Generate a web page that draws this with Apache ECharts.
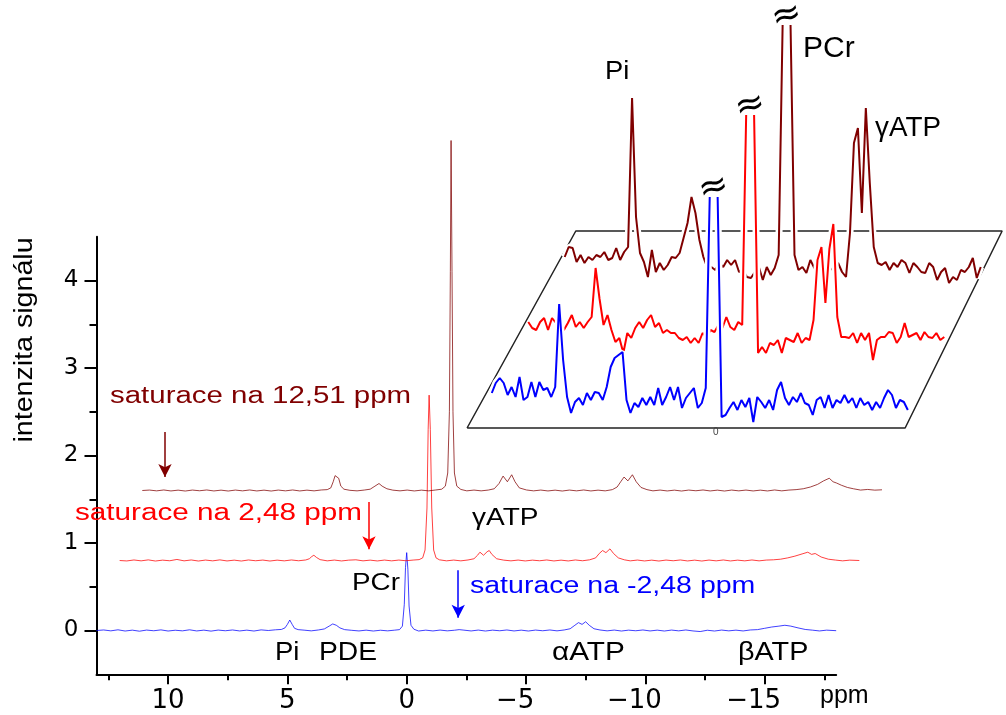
<!DOCTYPE html>
<html><head><meta charset="utf-8">
<script src="https://cdn.jsdelivr.net/npm/echarts@6/dist/echarts.min.js"></script>
<style>html,body{margin:0;padding:0;background:#fff}#c{width:1006px;height:715px}</style>
</head><body><div id="c"></div>
<script>
// ---------- tick values ----------
const xMajor = [-15, -10, -5, 0, 5, 10];
const xMinor = [-17.5, -12.5, -7.5, -2.5, 2.5, 7.5, 12.5];
const yMajor = [0, 1, 2, 3, 4];
const yMinor = [0.5, 1.5, 2.5, 3.5];

// ---------- main spectra: [ppm, intensity] ----------
const blueSpectrum = [[13.0,0.0],[12.7,0.006],[12.4,-0.004],[12.1,0.008],[11.8,-0.006],[11.5,0.004],[11.2,-0.008],[10.9,0.005],[10.6,-0.003],[10.3,0.007],[10.0,-0.006],[9.7,0.003],[9.4,-0.004],[9.1,0.008],[8.8,-0.005],[8.5,0.004],[8.2,-0.007],[7.9,0.005],[7.6,-0.003],[7.3,0.006],[7.0,-0.005],[6.7,0.004],[6.4,-0.006],[6.1,0.007],[5.8,0.0],[5.5,0.008],[5.25,0.012],[5.1,0.03],[5.0,0.07],[4.9,0.12],[4.8,0.07],[4.7,0.025],[4.55,0.01],[4.3,0.004],[4.0,-0.004],[3.7,0.006],[3.45,0.018],[3.25,0.05],[3.1,0.075],[2.95,0.06],[2.8,0.03],[2.6,0.01],[2.3,0.002],[2.0,-0.005],[1.7,0.004],[1.4,-0.006],[1.1,0.003],[0.8,-0.004],[0.5,0.004],[0.3,0.01],[0.18,0.05],[0.1,0.3],[0.05,0.72],[0.0,0.89],[-0.05,0.7],[-0.1,0.28],[-0.18,0.06],[-0.3,0.015],[-0.5,-0.006],[-0.8,0.004],[-1.1,-0.005],[-1.4,0.005],[-1.7,-0.004],[-2.0,0.003],[-2.2,0.01],[-2.4,0.004],[-2.7,-0.005],[-3.0,0.005],[-3.3,-0.006],[-3.6,0.004],[-3.9,-0.003],[-4.2,0.006],[-4.5,-0.005],[-4.8,0.004],[-5.1,-0.006],[-5.4,0.005],[-5.7,-0.003],[-6.0,0.006],[-6.3,-0.004],[-6.6,0.006],[-6.85,0.02],[-7.05,0.06],[-7.2,0.09],[-7.35,0.07],[-7.5,0.1],[-7.65,0.06],[-7.85,0.02],[-8.1,0.006],[-8.4,-0.004],[-8.7,0.005],[-9.0,-0.006],[-9.3,0.004],[-9.6,-0.003],[-9.9,0.006],[-10.2,-0.005],[-10.5,0.004],[-10.8,-0.006],[-11.1,0.005],[-11.4,-0.004],[-11.7,0.006],[-12.0,-0.005],[-12.3,-0.012],[-12.6,0.003],[-12.9,-0.006],[-13.2,0.005],[-13.5,-0.004],[-13.8,0.004],[-14.1,-0.005],[-14.4,0.006],[-14.7,0.01],[-15.0,0.025],[-15.3,0.04],[-15.6,0.05],[-15.85,0.06],[-16.1,0.05],[-16.4,0.03],[-16.7,0.012],[-17.0,0.004],[-17.3,-0.005],[-17.6,0.004],[-18.0,-0.002]];

const redSpectrum = [[13.0,0.0],[12.7,-0.005],[12.4,0.006],[12.1,-0.004],[11.8,0.007],[11.5,-0.006],[11.2,0.004],[10.9,-0.003],[10.6,0.012],[10.3,-0.004],[10.0,0.006],[9.7,-0.006],[9.4,0.005],[9.1,-0.004],[8.8,0.007],[8.5,-0.005],[8.2,0.004],[7.9,-0.006],[7.6,0.006],[7.3,-0.003],[7.0,0.005],[6.7,-0.006],[6.4,0.004],[6.1,-0.004],[5.8,0.006],[5.5,-0.003],[5.2,0.006],[5.05,0.02],[4.95,0.045],[4.86,0.06],[4.75,0.035],[4.6,0.01],[4.3,-0.004],[4.0,0.005],[3.7,-0.005],[3.4,0.004],[3.1,0.008],[2.8,-0.004],[2.5,0.004],[2.2,-0.005],[1.9,0.005],[1.6,-0.004],[1.3,0.005],[1.0,-0.003],[0.7,0.005],[0.45,0.01],[0.3,0.03],[0.2,0.12],[0.12,0.6],[0.07,1.5],[0.03,1.89],[-0.02,1.5],[-0.08,0.6],[-0.16,0.12],[-0.26,0.03],[-0.4,0.008],[-0.7,-0.004],[-1.0,0.005],[-1.3,-0.004],[-1.6,0.006],[-1.85,0.02],[-2.0,0.06],[-2.1,0.095],[-2.25,0.06],[-2.4,0.1],[-2.49,0.114],[-2.6,0.07],[-2.8,0.02],[-3.1,0.004],[-3.4,-0.004],[-3.7,0.005],[-4.0,-0.005],[-4.3,0.004],[-4.6,-0.003],[-4.9,0.006],[-5.2,-0.005],[-5.5,0.004],[-5.8,-0.005],[-6.1,0.006],[-6.4,-0.003],[-6.7,0.008],[-6.95,0.03],[-7.1,0.08],[-7.24,0.114],[-7.38,0.09],[-7.55,0.133],[-7.7,0.08],[-7.9,0.03],[-8.15,0.008],[-8.4,-0.004],[-8.7,0.005],[-9.0,-0.005],[-9.3,0.004],[-9.6,-0.006],[-9.9,0.005],[-10.2,-0.003],[-10.5,0.006],[-10.8,-0.005],[-11.1,0.004],[-11.4,-0.006],[-11.7,0.005],[-12.0,-0.004],[-12.3,0.006],[-12.6,-0.005],[-12.9,0.004],[-13.2,-0.004],[-13.5,0.006],[-13.8,-0.004],[-14.1,0.005],[-14.4,0.008],[-14.7,0.015],[-15.0,0.03],[-15.3,0.05],[-15.6,0.075],[-15.84,0.095],[-16.0,0.07],[-16.15,0.08],[-16.4,0.04],[-16.7,0.015],[-17.0,0.005],[-17.3,-0.004],[-17.6,0.004],[-18.0,0.0]];

const darkRedSpectrum = [[13.0,0.0],[12.7,0.005],[12.4,-0.004],[12.1,0.006],[11.8,-0.005],[11.5,0.004],[11.2,-0.006],[10.9,0.005],[10.6,-0.003],[10.3,0.006],[10.0,-0.005],[9.7,0.004],[9.4,-0.006],[9.1,0.005],[8.8,-0.004],[8.5,0.006],[8.2,-0.005],[7.9,0.004],[7.6,-0.006],[7.3,0.005],[7.0,-0.004],[6.7,0.006],[6.4,-0.005],[6.1,0.004],[5.8,-0.004],[5.5,0.006],[5.25,0.01],[5.1,0.03],[5.0,0.1],[4.92,0.17],[4.85,0.19],[4.77,0.14],[4.68,0.05],[4.55,0.015],[4.3,0.002],[4.0,-0.004],[3.7,0.005],[3.45,0.015],[3.25,0.05],[3.08,0.08],[2.95,0.05],[2.75,0.02],[2.5,0.004],[2.2,-0.004],[1.9,0.005],[1.6,-0.005],[1.3,0.004],[1.0,-0.004],[0.7,0.006],[0.45,0.015],[0.3,0.05],[0.2,0.2],[0.13,0.9],[0.09,2.5],[0.06,4.0],[0.02,2.5],[-0.02,0.9],[-0.08,0.2],[-0.18,0.05],[-0.35,0.012],[-0.6,-0.004],[-0.9,0.005],[-1.2,-0.004],[-1.5,0.005],[-1.75,0.02],[-1.95,0.08],[-2.12,0.165],[-2.3,0.1],[-2.48,0.18],[-2.62,0.1],[-2.8,0.03],[-3.1,0.006],[-3.4,-0.004],[-3.7,0.005],[-4.0,-0.005],[-4.3,0.004],[-4.6,-0.006],[-4.9,0.005],[-5.2,-0.004],[-5.5,0.006],[-5.8,-0.005],[-6.1,0.004],[-6.4,-0.004],[-6.7,0.01],[-6.9,0.04],[-7.05,0.1],[-7.19,0.154],[-7.35,0.11],[-7.54,0.18],[-7.7,0.1],[-7.9,0.035],[-8.15,0.01],[-8.4,-0.004],[-8.7,0.005],[-9.0,-0.005],[-9.3,0.004],[-9.6,-0.006],[-9.9,0.005],[-10.2,-0.003],[-10.5,0.006],[-10.8,-0.005],[-11.1,0.004],[-11.4,-0.006],[-11.7,0.005],[-12.0,-0.004],[-12.3,0.005],[-12.6,-0.005],[-12.9,0.004],[-13.2,-0.005],[-13.5,0.006],[-13.8,-0.004],[-14.1,0.005],[-14.4,0.01],[-14.7,0.02],[-15.0,0.04],[-15.3,0.07],[-15.55,0.11],[-15.79,0.14],[-15.95,0.1],[-16.1,0.085],[-16.3,0.06],[-16.55,0.035],[-16.8,0.02],[-17.1,0.005],[-17.4,0.012],[-17.7,0.004],[-18.0,0.008]];

// stacking of the main plot (blue, red, dark red)
const stackShiftPpm = [0, 0.97, 1.92];
const stackOffset = [0, 0.8, 1.6];
// saturation arrows: [axis ppm, start intensity, end intensity]
const satArrows = [[-2.16, 0.69, 0.145], [1.58, 1.47, 0.93], [10.13, 2.27, 1.755]];

// ---------- inset spectra (sampled from 7.0 ppm in 0.125 ppm steps) ----------
const insetStartPpm = 7.0, insetStepPpm = 0.125;
const insetBlue = [0.007,0.017,0.022,0.017,0.005,0.013,0.003,0.023,0.0,0.003,
0.018,0.003,0.018,0.01,0.012,0.003,0.013,0.096,0.04,0.003,
-0.013,-0.002,0.002,-0.005,0.007,0.0,0.008,0.007,0.0,0.013,
0.033,0.042,0.045,0.048,0.0,-0.013,-0.003,-0.007,0.002,-0.005,
0.003,-0.005,0.012,-0.005,0.003,0.013,0.0,0.013,-0.008,0.002,
0.007,0.012,-0.008,-0.003,0.012,0.203,null,0.203,-0.017,-0.015,
-0.008,-0.002,-0.01,0.0,-0.007,0.002,-0.022,0.003,-0.002,-0.008,
0.0,-0.01,0.01,0.018,0.002,-0.005,0.003,-0.002,0.007,-0.003,
-0.005,-0.015,0.0,0.003,-0.008,0.005,-0.008,0.0,-0.003,0.005,
-0.003,0.002,-0.008,0.002,-0.005,-0.002,-0.01,-0.002,-0.008,0.002,
0.01,0.005,-0.008,0.0,-0.002,-0.01];
const insetRed = [0.012,0.006,0.004,0.012,0.016,0.004,0.016,0.011,0.006,0.004,
0.011,0.019,0.007,0.012,0.006,0.012,0.017,0.066,0.035,0.009,
0.019,0.004,-0.008,-0.004,-0.019,0.001,-0.004,0.006,0.012,0.006,
0.014,0.019,0.007,0.011,0.001,0.004,0.001,0.001,-0.004,-0.006,
-0.003,-0.009,-0.004,-0.009,0.001,-0.003,0.004,0.002,0.009,0.006,
0.017,0.007,0.004,0.012,0.009,0.219,null,0.219,-0.019,-0.013,
-0.019,-0.009,-0.011,-0.006,-0.019,-0.004,-0.006,-0.008,0.001,-0.009,
-0.004,-0.006,0.014,0.074,0.087,0.031,0.085,0.11,0.017,-0.003,
-0.003,-0.004,0.001,-0.009,0.001,-0.006,0.001,-0.026,-0.006,-0.003,
-0.003,0.002,0.001,-0.009,-0.003,0.011,-0.003,-0.001,0.001,-0.006,
0.002,-0.003,-0.004,0.001,-0.006,-0.003];
const insetDarkRed = [0.011,0.021,0.02,0.006,0.013,0.005,0.011,0.008,0.013,0.011,
0.016,0.008,0.01,0.02,0.008,0.016,0.021,0.17,0.051,0.015,
0.006,-0.009,0.018,-0.004,0.005,-0.002,0.003,0.011,0.01,0.015,
0.03,0.045,0.071,0.055,0.028,0.011,0.0,0.001,-0.002,0.005,
0.001,0.008,0.003,0.008,-0.004,-0.002,-0.009,-0.01,-0.004,0.001,
-0.012,0.001,-0.007,0.0,0.013,0.243,null,0.243,0.013,-0.002,
0.001,-0.005,0.008,0.0,-0.007,0.001,-0.005,-0.002,0.001,0.005,
-0.004,-0.009,0.035,0.125,0.14,0.055,0.16,0.085,0.021,0.005,
0.003,0.006,-0.002,0.005,0.001,0.008,0.005,-0.005,0.005,0.001,
-0.004,-0.005,0.005,0.001,-0.012,-0.004,0.0,-0.015,-0.009,-0.012,
-0.002,-0.004,0.001,0.01,-0.01,0.001];
const insetShiftPpm = 1.15, insetOffset = 0.066;
const insetFrame = [[7.78,-0.028],[-6.04,-0.028],[-9.10,0.169],[4.35,0.169],[7.78,-0.028]];

// ---------- build ----------
const FONT = '"Liberation Sans", Arial, Helvetica, sans-serif';
const colors = ['#0000ff', '#ff0000', '#800000'];
const mainRaw = [blueSpectrum, redSpectrum, darkRedSpectrum];
const insetRaw = [insetBlue, insetRed, insetDarkRed];

const series = [];
mainRaw.forEach((spec, k) => {
  const a = satArrows[k];
  series.push({
    type: 'line', xAxisIndex: 0, yAxisIndex: 0, clip: false, showSymbol: false, silent: true,
    z: 2, animation: false,
    lineStyle: { color: colors[k], width: 1, opacity: 0.75 },
    data: spec.map(p => [p[0] - stackShiftPpm[k], p[1] + stackOffset[k]]),
    markLine: {
      silent: true, animation: false, symbol: ['none', 'arrow'], symbolSize: [10, 13],
      label: { show: false },
      lineStyle: { color: colors[k], width: 1.5, type: 'solid', opacity: 1 },
      data: [[{ coord: [a[0], a[1]] }, { coord: [a[0], a[2]] }]]
    }
  });
});

series.push({
  type: 'line', xAxisIndex: 1, yAxisIndex: 1, clip: false, showSymbol: false, silent: true, z: 3,
  animation: false, lineStyle: { color: '#222', width: 1.5 }, data: insetFrame
});

[2, 1, 0].forEach((k, order) => {
  const vals = insetRaw[k];
  const data = vals.map((v, i) => [insetStartPpm - i * insetStepPpm - k * insetShiftPpm,
                                   v === null ? '-' : v + k * insetOffset]);
  const cutIdx = vals.indexOf(null);
  const brk = [insetStartPpm - cutIdx * insetStepPpm - k * insetShiftPpm, vals[cutIdx - 1] + k * insetOffset + 0.009];
  series.push({
    type: 'line', xAxisIndex: 1, yAxisIndex: 1, clip: false, showSymbol: false, silent: true,
    z: 4 + order * 2, animation: false, connectNulls: false,
    lineStyle: { color: '#fff', width: 7 }, data
  });
  series.push({
    type: 'line', xAxisIndex: 1, yAxisIndex: 1, clip: false, showSymbol: false, silent: true,
    z: 5 + order * 2, animation: false, connectNulls: false,
    lineStyle: { color: colors[k], width: 2 }, data,
    markPoint: {
      silent: true, animation: false, symbol: 'rect', symbolSize: 1,
      itemStyle: { color: 'rgba(0,0,0,0)' },
      label: { show: true, formatter: '{s|\u2248}', rotate: 15, position: 'inside',
               rich: { s: { fontSize: 36, color: '#000', fontFamily: 'DejaVu Sans' } } },
      data: [{ coord: brk }]
    }
  });
});

function T(text, x, y, size, fill, sx) {
  return { type: 'text', x, y, scaleX: sx || 1, silent: true, z: 100,
    style: { text, font: size + 'px ' + FONT, fill, textAlign: 'left', textVerticalAlign: 'middle' } };
}
const graphics = [
  T('saturace na 12,51 ppm', 110, 397, 23, '#800000', 1.28),
  T('saturace na 2,48 ppm', 75, 514, 23, '#ff0000', 1.29),
  T('saturace na -2,48 ppm', 470, 587, 23, '#0000ff', 1.24),
  T('PCr', 352, 584, 23, '#000', 1.21),
  T('\u03b3ATP', 472, 518, 24, '#000', 1.17),
  T('Pi', 275, 653, 25, '#000', 1.1),
  T('PDE', 319, 653, 25, '#000', 1.13),
  T('\u03b1ATP', 552, 653, 25, '#000', 1.19),
  T('\u03b2ATP', 738, 653, 25, '#000', 1.15),
  T('ppm', 820, 696, 25, '#000', 1.0),
  T('Pi', 605, 72, 26, '#000', 1.05),
  T('PCr', 803, 49, 30, '#000', 1.0),
  T('\u03b3ATP', 875, 129, 27, '#000', 1.03),
  T('0', 713, 432, 10, '#444', 1.0),
  { type: 'text', x: 25, y: 340, rotation: Math.PI / 2, scaleX: 1.1, silent: true, z: 100,
    style: { text: 'intenzita sign\u00e1lu', font: '26px ' + FONT, fill: '#000',
             textAlign: 'center', textVerticalAlign: 'middle' } }
];

const AX = { color: '#000', width: 2 };
const option = {
  animation: false,
  grid: [
    // data grid (wider on the right so shifted spectra run past the axis end)
    { left: 96.5, right: 122.1, top: 236.75, bottom: 40.75 },
    // inset
    { left: 460.1, right: 0.7, top: 0, bottom: 275 },
    // visible axes
    { left: 96.5, right: 169.8, top: 236.75, bottom: 40.75 }
  ],
  xAxis: [
    { gridIndex: 0, type: 'value', inverse: true, min: -20, max: 13, show: false },
    { gridIndex: 1, type: 'value', inverse: true, min: -9.2, max: 8, show: false },
    { gridIndex: 2, type: 'value', inverse: true, min: -18, max: 13, position: 'bottom',
      axisLine: { show: true, onZero: false, lineStyle: AX },
      axisTick: { show: true, customValues: xMajor, length: 10, lineStyle: AX },
      axisLabel: { customValues: xMajor, margin: 14, color: '#000', fontSize: 26, fontFamily: 'DejaVu Sans',
        formatter: v => v < 0 ? '\u2212' + Math.abs(v) + '{h|\u2212}' : String(v),
        rich: { h: { color: 'rgba(0,0,0,0)', fontSize: 26, fontFamily: 'DejaVu Sans' } } },
      splitLine: { show: false } },
    { gridIndex: 2, type: 'value', inverse: true, min: -18, max: 13, position: 'bottom',
      axisLine: { show: false, onZero: false },
      axisTick: { show: true, customValues: xMinor, length: 6, lineStyle: AX },
      axisLabel: { show: false }, splitLine: { show: false } }
  ],
  yAxis: [
    { gridIndex: 0, type: 'value', min: -0.5, max: 4.5, show: false },
    { gridIndex: 1, type: 'value', min: -0.04, max: 0.40, show: false },
    { gridIndex: 2, type: 'value', min: -0.5, max: 4.5, position: 'left',
      axisLine: { show: true, onZero: false, lineStyle: AX },
      axisTick: { show: true, customValues: yMajor, length: 12, lineStyle: AX },
      axisLabel: { customValues: yMajor, margin: 18, color: '#000', fontSize: 23, fontFamily: 'DejaVu Sans' },
      splitLine: { show: false } },
    { gridIndex: 2, type: 'value', min: -0.5, max: 4.5, position: 'left',
      axisLine: { show: false, onZero: false },
      axisTick: { show: true, customValues: yMinor, length: 7, lineStyle: AX },
      axisLabel: { show: false }, splitLine: { show: false } }
  ],
  series,
  graphic: graphics
};
const chart = echarts.init(document.getElementById('c'), null, { renderer: 'canvas' });
chart.setOption(option);
</script></body></html>
